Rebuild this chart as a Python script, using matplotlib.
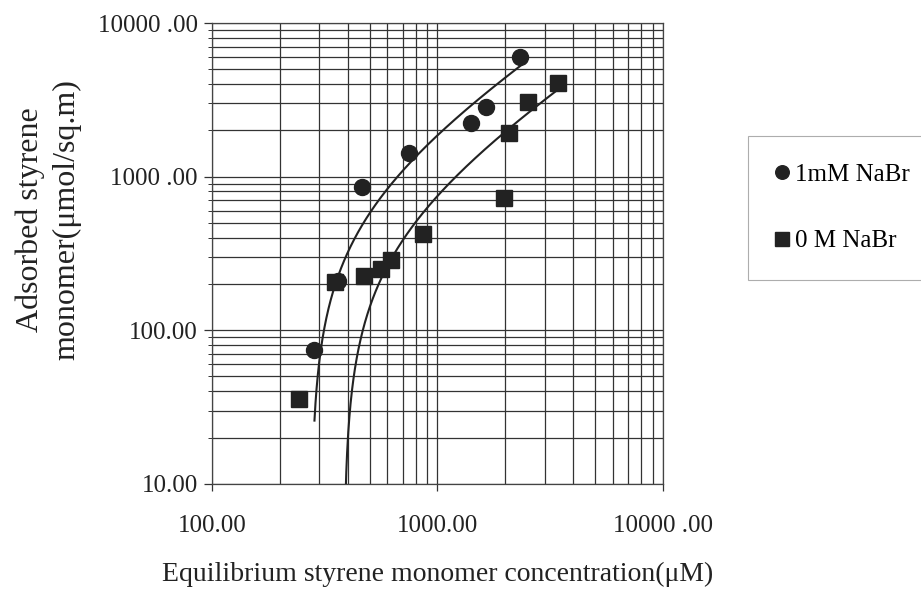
import numpy as np
import matplotlib
matplotlib.use('Agg')
import matplotlib.pyplot as plt
from matplotlib.ticker import FixedLocator, FixedFormatter, LogLocator, NullFormatter

# 1 mM NaBr (circles)
x_nabr1 = [285, 364, 465, 751, 1410, 1644, 2330]
y_nabr1 = [74, 210, 851, 1435, 2230, 2830, 6000]
# 0 M NaBr (squares)
x_nabr0 = [244, 352, 473, 563, 621, 861, 1963, 2066, 2506, 3410]
y_nabr0 = [35.5, 207, 226, 252, 288, 421, 723, 1936, 3040, 4066]

x_ticks = [100, 1000, 10000]
x_ticklabels = ['100.00', '1000.00', '10000 .00']
y_ticks = [10, 100, 1000, 10000]
y_ticklabels = ['10.00', '100.00', '1000 .00', '10000 .00']

plt.rcParams['font.family'] = ['Liberation Serif', 'DejaVu Serif']

fig = plt.figure(figsize=(9.21, 5.9), dpi=100)
ax = fig.add_axes([0.230, 0.180, 0.490, 0.781])
ax.set_xscale('log')
ax.set_yscale('log')
ax.set_xlim(100, 10000)
ax.set_ylim(10, 10000)

ink = '#222222'

# linear trendlines (least squares in linear space), as in the original spreadsheet
def trend(xs, ys):
    k, b = np.polyfit(xs, ys, 1)
    xx = np.linspace(min(xs), max(xs), 2000)
    yy = k * xx + b
    yy = np.where(yy > 0, yy, np.nan)
    return xx, yy

tx, ty = trend(x_nabr1, y_nabr1)
ax.plot(tx, ty, color=ink, lw=1.5, zorder=3)
tx, ty = trend(x_nabr0, y_nabr0)
ax.plot(tx, ty, color=ink, lw=1.5, zorder=3)

h1, = ax.plot(x_nabr1, y_nabr1, 'o', color=ink, ms=11.5, zorder=4, label='1mM NaBr')
h0, = ax.plot(x_nabr0, y_nabr0, 's', color=ink, ms=12, zorder=4, label='0 M NaBr')

ax.xaxis.set_major_locator(FixedLocator(x_ticks))
ax.xaxis.set_major_formatter(FixedFormatter(x_ticklabels))
ax.yaxis.set_major_locator(FixedLocator(y_ticks))
ax.yaxis.set_major_formatter(FixedFormatter(y_ticklabels))
ax.xaxis.set_minor_locator(LogLocator(base=10, subs=np.arange(2, 10)))
ax.yaxis.set_minor_locator(LogLocator(base=10, subs=np.arange(2, 10)))
ax.xaxis.set_minor_formatter(NullFormatter())
ax.yaxis.set_minor_formatter(NullFormatter())

ax.grid(which='both', color='#333333', lw=0.9)
ax.set_axisbelow(True)
for s in ax.spines.values():
    s.set_color('#444444')
    s.set_linewidth(0.9)

ax.tick_params(axis='x', which='major', length=5, width=0.9, labelsize=18, pad=17.5, colors='#333333')
ax.tick_params(axis='x', which='minor', length=0)
ax.tick_params(axis='y', which='major', length=6, width=0.9, labelsize=18, pad=4, colors='#333333')
ax.tick_params(axis='y', which='minor', length=3, width=0.7, colors='#333333')
for lab in ax.get_xticklabels() + ax.get_yticklabels():
    lab.set_color('#222222')

ax.set_xlabel('Equilibrium styrene monomer concentration(μM)', fontsize=20, labelpad=18, color='#222222')
ax.set_ylabel('Adsorbed styrene\nmonomer(μmol/sq.m)', fontsize=23, color='#222222',
              linespacing=1.35)
ax.yaxis.set_label_coords(-0.288, 0.573)

leg = fig.legend(handles=[h1, h0], loc='upper left', bbox_to_anchor=(0.812, 1 - 136 / 590),
                 frameon=True, fancybox=False, fontsize=18, handlelength=0.5,
                 handletextpad=0.3, labelspacing=1.75, borderpad=1.1, markerscale=0.85,
                 borderaxespad=0)
leg.get_frame().set_edgecolor('#999999')
leg.get_frame().set_linewidth(0.8)

fig.savefig('out.png', dpi=100)
